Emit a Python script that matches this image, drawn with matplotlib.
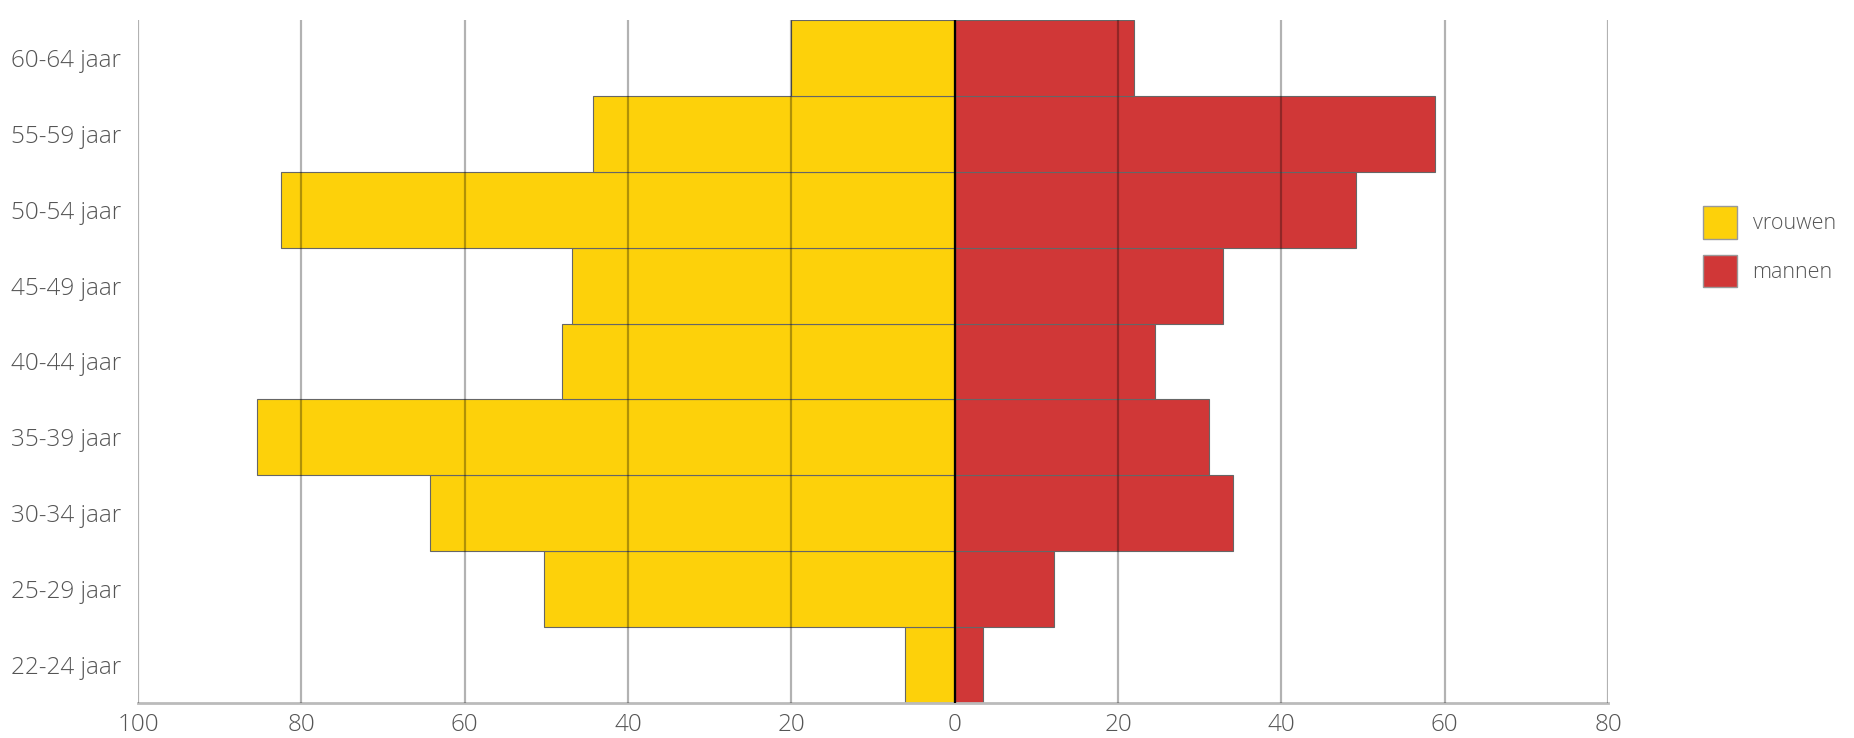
import matplotlib
matplotlib.use('Agg')
import matplotlib.pyplot as plt
from matplotlib.patches import Patch

plt.rcParams['font.family'] = ['Open Sans', 'DejaVu Sans']
plt.rcParams['font.weight'] = 'light'

leeftijd = ['22-24 jaar', '25-29 jaar', '30-34 jaar', '35-39 jaar', '40-44 jaar',
            '45-49 jaar', '50-54 jaar', '55-59 jaar', '60-64 jaar']
vrouwen = [6.1, 50.3, 64.2, 85.4, 48.1, 46.8, 82.5, 44.3, 20.0]
mannen = [3.5, 12.2, 34.1, 31.2, 24.5, 32.8, 49.1, 58.8, 21.9]
xticks = [-100, -80, -60, -40, -20, 0, 20, 40, 60, 80]

geel = '#FDD10A'
rood = '#D03737'
tekst = '#555555'


def main():
    fig = plt.figure(figsize=(18.54, 7.38), dpi=100)
    ax = fig.add_axes([138 / 1854, 35 / 738, (1608 - 138) / 1854, (703 - 20) / 738])

    pos = list(range(len(leeftijd)))
    ax.barh(pos, [-v for v in vrouwen], height=1.0, color=geel,
            edgecolor='#666666', linewidth=0.8, zorder=1)
    ax.barh(pos, mannen, height=1.0, color=rood,
            edgecolor='#666666', linewidth=0.8, zorder=1)

    # rasterlijnen over de balken heen
    for x in xticks:
        ax.axvline(x, color='black', alpha=0.3, lw=1.6, zorder=3)
    ax.axvline(0, color='black', lw=1.6, zorder=4)

    ax.set_xlim(-100, 80)
    ax.set_ylim(-0.5, len(leeftijd) - 0.5)
    ax.set_xticks(xticks)
    ax.set_xticklabels([str(abs(x)) for x in xticks])
    ax.set_yticks(pos)
    ax.set_yticklabels(leeftijd)
    ax.tick_params(length=0, labelsize=17.5, colors=tekst)
    ax.tick_params(axis='y', pad=12)
    ax.tick_params(axis='x', pad=7)

    for s in ['top', 'right', 'left']:
        ax.spines[s].set_visible(False)
    ax.spines['bottom'].set_color('#bbbbbb')
    ax.spines['bottom'].set_linewidth(2)

    handles = [Patch(facecolor=geel, edgecolor='#999999', label='vrouwen'),
               Patch(facecolor=rood, edgecolor='#999999', label='mannen')]
    leg = fig.legend(handles=handles, loc='upper left', bbox_to_anchor=(1703 / 1854, 1 - 206 / 738),
                     frameon=False, fontsize=15.5, handlelength=1.6, handleheight=1.95,
                     labelspacing=0.75, handletextpad=0.7, borderpad=0, borderaxespad=0)
    for t in leg.get_texts():
        t.set_color(tekst)

    fig.savefig('out.png', dpi=100)


if __name__ == '__main__':
    main()
